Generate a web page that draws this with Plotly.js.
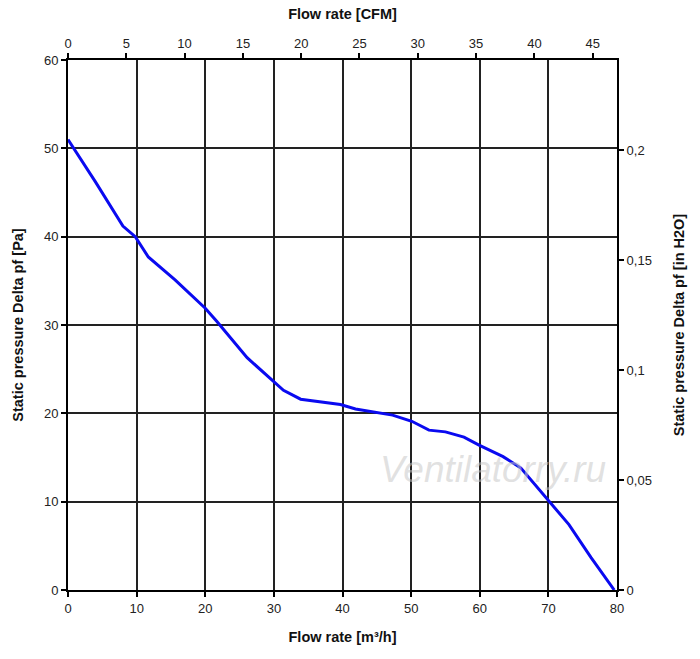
<html>
<head>
<script src="https://cdn.plot.ly/plotly-3.0.1.min.js"></script>
<style>body{margin:0;background:#fff}</style>
</head>
<body>
<div id="chart" style="width:700px;height:659px"></div>
<script>
// fan curve: flow [m3/h] vs static pressure [Pa]
const flow = [0, 4, 8, 9.8, 11.7, 15.6, 20, 21.7, 26.1, 31.4, 33.9, 39.7, 41.9, 47.3, 50.1, 52.6, 55, 57.7, 59.9, 63.4, 66, 70.1, 73, 76.2, 79.6];
const pressure = [51, 46.2, 41.2, 40, 37.7, 35.1, 31.9, 30.4, 26.3, 22.6, 21.6, 21.0, 20.5, 19.8, 19.1, 18.1, 17.9, 17.3, 16.4, 15.1, 13.8, 10.0, 7.4, 3.7, 0];

const M3H_PER_CFM = 1.699;
const PA_PER_INH2O = 249.089;
const xMax = 80, yMax = 60;

// same curve in the secondary units, only to carry the top/right axes
const flowCfm = flow.map(v => v / M3H_PER_CFM);
const pressureInH2O = pressure.map(v => v / PA_PER_INH2O);

const font = {family: "Liberation Sans, Arial, sans-serif", size: 13, color: "#222"};
const titleFont = {family: "Liberation Sans, Arial, sans-serif", size: 14.5, color: "#111", weight: "bold"};

const axisCommon = {
  showline: true, linecolor: "#000", linewidth: 2,
  ticks: "outside", ticklen: 5, tickwidth: 2, tickcolor: "#000",
  zeroline: false
};

let data = [{
  x: flow,
  y: pressure,
  type: "scatter",
  mode: "lines",
  line: {color: "#0a0af0", width: 3},
  hoverinfo: "skip"
}, {
  x: flowCfm,
  y: pressureInH2O,
  xaxis: "x2", yaxis: "y2",
  type: "scatter",
  mode: "lines",
  line: {color: "rgba(0,0,0,0)", width: 0},
  hoverinfo: "skip"
}];

let layout = {
  width: 700, height: 659,
  margin: {l: 68, r: 83, t: 60, b: 69},
  paper_bgcolor: "#fff", plot_bgcolor: "#fff",
  separators: ", ",
  showlegend: false,
  font: font,
  xaxis: Object.assign({}, axisCommon, {
    range: [0, xMax], dtick: 10, tick0: 0,
    showgrid: true, gridcolor: "#222", gridwidth: 2,
    title: {text: "Flow rate [m³/h]", font: titleFont, standoff: 17}
  }),
  xaxis2: Object.assign({}, axisCommon, {
    overlaying: "x", side: "top", anchor: "y",
    range: [0, xMax / M3H_PER_CFM], dtick: 5, tick0: 0,
    showgrid: false,
    title: {text: "Flow rate [CFM]", font: titleFont, standoff: 13}
  }),
  yaxis: Object.assign({}, axisCommon, {
    range: [0, yMax], dtick: 10, tick0: 0,
    showgrid: true, gridcolor: "#222", gridwidth: 2,
    title: {text: "Static pressure Delta pf [Pa]", font: titleFont, standoff: 17}
  }),
  yaxis2: Object.assign({}, axisCommon, {
    overlaying: "y", side: "right", anchor: "x",
    range: [0, yMax / PA_PER_INH2O], dtick: 0.05, tick0: 0,
    showgrid: false,
    title: {text: "Static pressure Delta pf [in H2O]", font: titleFont, standoff: 23}
  }),
  annotations: [{
    text: "Ventilatorry.ru", xref: "x", yref: "y", x: 61.9, y: 13.6,
    showarrow: false,
    font: {family: "Liberation Sans, Arial, sans-serif", size: 37, color: "rgba(200,200,200,0.55)", style: "italic"}
  }]
};

Plotly.newPlot("chart", data, layout, {displayModeBar: false, staticPlot: true});
</script>
</body>
</html>
